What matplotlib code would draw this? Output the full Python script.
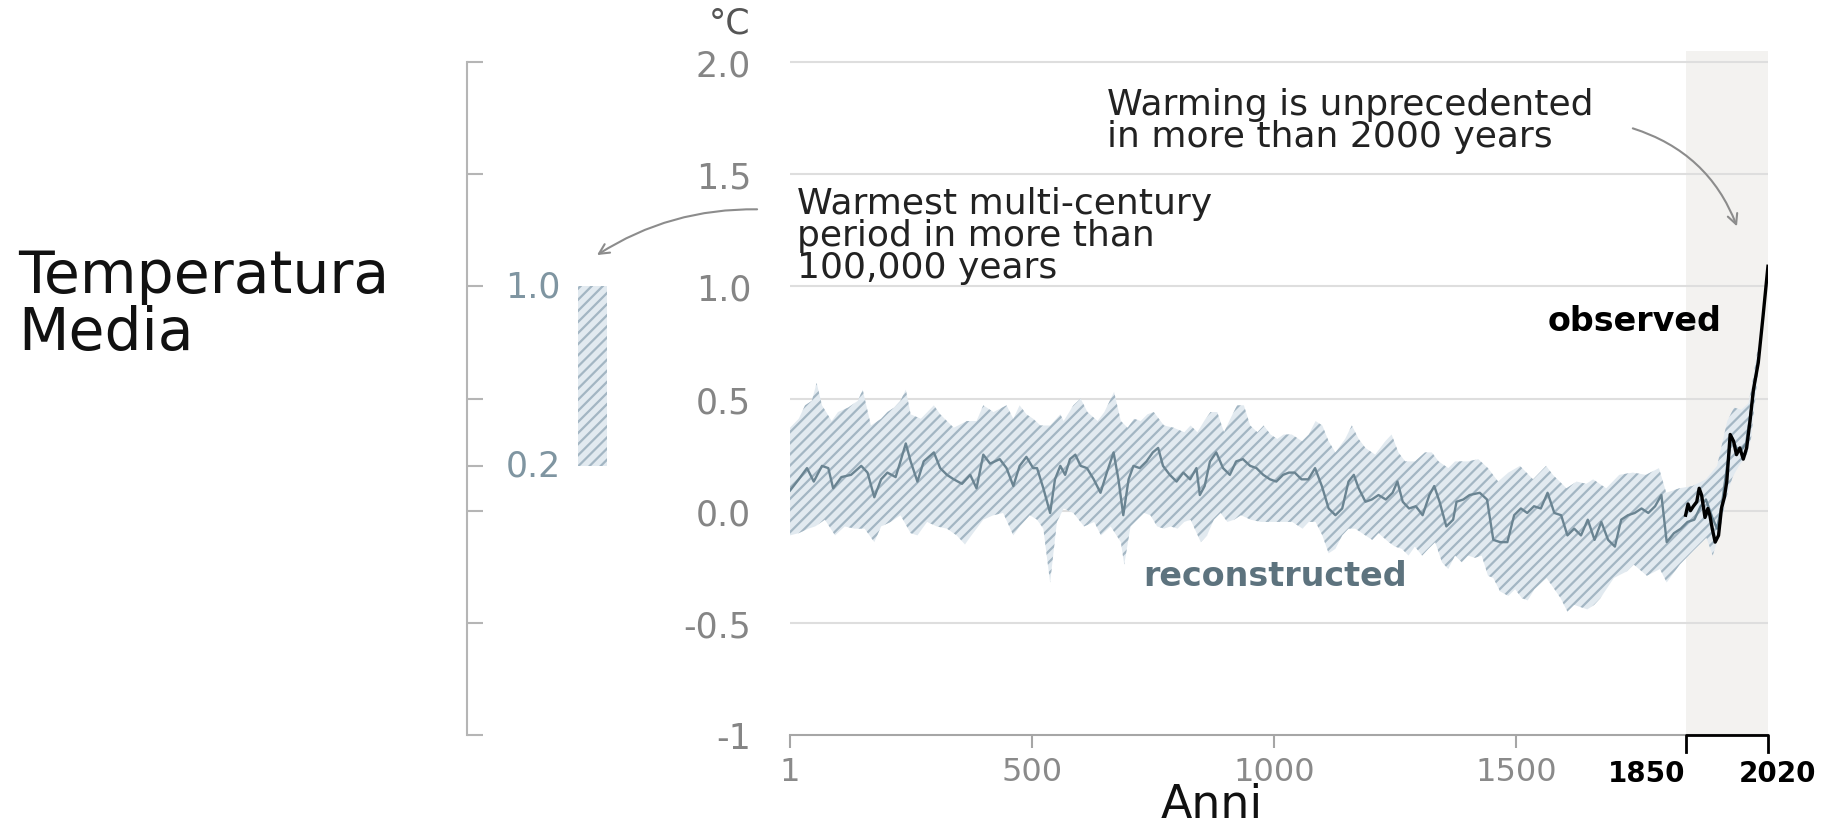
import matplotlib
matplotlib.use("Agg")
import matplotlib.pyplot as plt

plt.rcParams['font.family'] = ['DejaVu Sans']
plt.rcParams['hatch.linewidth'] = 1.6

# ricostruzione (anni 1-2000): linea media
mean_years = [1, 19, 36, 50, 67, 80, 90, 107, 127, 148, 161, 175, 189, 202, 219, 229, 240, 250,
              264, 277, 298, 311, 325, 339, 356, 373, 386, 400, 414, 434, 448, 462, 475, 489,
              503, 511, 524, 538, 548, 559, 569, 579, 590, 601, 614, 628, 642, 655, 669, 679,
              689, 700, 710, 723, 737, 750, 761, 771, 785, 799, 813, 827, 840, 847, 857, 868,
              881, 895, 909, 922, 936, 951, 964, 978, 992, 1005, 1019, 1031, 1043, 1057, 1071,
              1085, 1099, 1113, 1127, 1141, 1154, 1165, 1175, 1189, 1202, 1216, 1231, 1245,
              1255, 1266, 1279, 1293, 1307, 1321, 1331, 1342, 1356, 1370, 1377, 1391, 1404,
              1425, 1440, 1453, 1467, 1482, 1496, 1510, 1523, 1537, 1551, 1565, 1579, 1593,
              1606, 1620, 1634, 1648, 1662, 1676, 1690, 1704, 1717, 1731, 1745, 1759, 1773,
              1787, 1800, 1811, 1826, 1840, 1854, 1868, 1881, 1892, 1905, 1915, 1925, 1937,
              1945, 1955, 1965, 1975, 1985, 1995, 2000]
mean_vals = [0.09, 0.14, 0.19, 0.13, 0.20, 0.19, 0.10, 0.15, 0.16, 0.20, 0.17, 0.06, 0.14, 0.17,
             0.15, 0.22, 0.30, 0.22, 0.13, 0.22, 0.26, 0.19, 0.16, 0.14, 0.12, 0.16, 0.10, 0.25,
             0.21, 0.23, 0.19, 0.11, 0.20, 0.24, 0.19, 0.19, 0.10, -0.01, 0.14, 0.20, 0.16,
             0.23, 0.25, 0.20, 0.19, 0.14, 0.08, 0.17, 0.26, 0.14, -0.02, 0.14, 0.20, 0.19,
             0.22, 0.26, 0.28, 0.20, 0.16, 0.13, 0.17, 0.14, 0.19, 0.07, 0.11, 0.22, 0.26,
             0.19, 0.16, 0.22, 0.23, 0.20, 0.19, 0.16, 0.14, 0.13, 0.16, 0.17, 0.17, 0.14,
             0.14, 0.19, 0.11, 0.01, -0.02, 0.01, 0.13, 0.16, 0.10, 0.04, 0.05, 0.07, 0.05,
             0.08, 0.13, 0.04, 0.01, 0.02, -0.02, 0.07, 0.11, 0.04, -0.07, -0.04, 0.04, 0.05,
             0.07, 0.08, 0.05, -0.13, -0.14, -0.14, -0.02, 0.01, -0.01, 0.02, 0.01, 0.08,
             -0.01, -0.02, -0.11, -0.08, -0.11, -0.04, -0.13, -0.05, -0.13, -0.16, -0.04,
             -0.02, -0.01, 0.01, -0.01, 0.02, 0.07, -0.14, -0.10, -0.08, -0.05, -0.04, 0.02,
             0.05, -0.03, -0.08, 0.03, 0.22, 0.33, 0.28, 0.27, 0.30, 0.45, 0.60, 0.68]

# banda di incertezza: bordo superiore
hi_years = [1, 19, 32, 46, 56, 67, 87, 100, 121, 141, 151, 168, 189, 202, 216, 229, 240, 250,
            271, 298, 311, 339, 366, 386, 400, 421, 448, 462, 475, 489, 503, 518, 538, 559,
            566, 586, 601, 615, 636, 650, 670, 684, 698, 711, 725, 739, 752, 773, 793, 815,
            828, 842, 856, 869, 883, 897, 910, 924, 938, 951, 966, 979, 993, 1007, 1020,
            1037, 1058, 1072, 1086, 1100, 1113, 1127, 1147, 1161, 1175, 1189, 1209, 1230,
            1243, 1257, 1271, 1291, 1312, 1326, 1340, 1360, 1374, 1401, 1422, 1442, 1463,
            1484, 1508, 1535, 1562, 1576, 1604, 1625, 1645, 1659, 1686, 1713, 1741, 1768,
            1795, 1810, 1837, 1864, 1892, 1915, 1936, 1950, 1965, 1980, 1990, 2000]
hi_vals = [0.37, 0.41, 0.47, 0.49, 0.57, 0.47, 0.40, 0.44, 0.46, 0.49, 0.54, 0.38, 0.41, 0.44,
           0.46, 0.49, 0.54, 0.43, 0.41, 0.47, 0.43, 0.37, 0.40, 0.40, 0.47, 0.44, 0.47, 0.41,
           0.47, 0.43, 0.41, 0.38, 0.38, 0.43, 0.40, 0.47, 0.50, 0.44, 0.40, 0.44, 0.53, 0.40,
           0.37, 0.41, 0.40, 0.43, 0.44, 0.38, 0.37, 0.35, 0.38, 0.35, 0.40, 0.44, 0.44, 0.35,
           0.41, 0.47, 0.47, 0.38, 0.35, 0.38, 0.34, 0.32, 0.34, 0.34, 0.31, 0.34, 0.40, 0.38,
           0.31, 0.26, 0.32, 0.38, 0.32, 0.28, 0.25, 0.31, 0.34, 0.26, 0.22, 0.22, 0.26, 0.26,
           0.22, 0.19, 0.22, 0.22, 0.23, 0.19, 0.13, 0.17, 0.20, 0.14, 0.20, 0.16, 0.10, 0.13,
           0.12, 0.14, 0.10, 0.16, 0.17, 0.16, 0.19, 0.08, 0.10, 0.11, 0.14, 0.20, 0.40, 0.46,
           0.45, 0.48, 0.60, 0.74]

# banda di incertezza: bordo inferiore
lo_years = [1, 19, 39, 53, 73, 94, 114, 134, 155, 175, 189, 209, 229, 250, 264, 284, 304, 325,
            345, 362, 379, 400, 421, 441, 462, 475, 496, 511, 524, 538, 552, 566, 586, 608,
            629, 643, 663, 684, 691, 704, 718, 732, 745, 759, 773, 787, 801, 815, 828, 849,
            862, 876, 890, 904, 918, 932, 952, 973, 993, 1014, 1038, 1059, 1072, 1086, 1100,
            1113, 1127, 1141, 1154, 1168, 1189, 1203, 1216, 1237, 1250, 1264, 1278, 1291,
            1306, 1319, 1333, 1347, 1360, 1374, 1388, 1401, 1415, 1429, 1442, 1453, 1467,
            1484, 1498, 1512, 1524, 1538, 1563, 1592, 1606, 1620, 1647, 1661, 1674, 1702,
            1729, 1743, 1770, 1797, 1811, 1838, 1865, 1893, 1906, 1920, 1933, 1947, 1960,
            1975, 1985, 1993, 2000]
lo_vals = [-0.11, -0.10, -0.08, -0.07, -0.04, -0.11, -0.07, -0.08, -0.08, -0.14, -0.07, -0.05,
           -0.02, -0.10, -0.11, -0.05, -0.07, -0.08, -0.11, -0.15, -0.10, -0.04, -0.02, -0.01,
           -0.11, -0.07, -0.02, -0.04, -0.08, -0.32, -0.05, 0.01, -0.01, -0.07, -0.05, -0.11,
           -0.07, -0.14, -0.24, -0.07, -0.04, -0.01, -0.02, -0.07, -0.08, -0.07, -0.08, -0.05,
           -0.04, -0.14, -0.11, -0.04, -0.01, -0.05, -0.04, -0.02, -0.04, -0.05, -0.05, -0.05,
           -0.05, -0.08, -0.05, -0.05, -0.11, -0.19, -0.17, -0.11, -0.08, -0.08, -0.11, -0.13,
           -0.10, -0.14, -0.16, -0.17, -0.20, -0.16, -0.20, -0.17, -0.14, -0.23, -0.26, -0.20,
           -0.23, -0.20, -0.21, -0.20, -0.29, -0.30, -0.36, -0.38, -0.35, -0.39, -0.40, -0.35,
           -0.30, -0.39, -0.45, -0.42, -0.44, -0.42, -0.39, -0.30, -0.27, -0.24, -0.29, -0.26,
           -0.32, -0.24, -0.18, -0.12, -0.20, -0.10, 0.05, 0.15, 0.20, 0.24, 0.32, 0.48, 0.62]

# osservazioni 1850-2020
obs_years = [1850, 1855, 1860, 1866, 1873, 1878, 1883, 1890, 1896, 1900, 1905, 1911, 1918, 1924,
             1930, 1935, 1942, 1949, 1955, 1962, 1969, 1976, 1983, 1990, 2000, 2010, 2020]
obs_vals = [-0.02, 0.03, 0.0, 0.02, 0.04, 0.10, 0.07, -0.03, 0.01, -0.02, -0.08, -0.14, -0.11,
            0.01, 0.06, 0.13, 0.34, 0.31, 0.25, 0.28, 0.23, 0.28, 0.40, 0.54, 0.66, 0.87, 1.09]
obs_span = [1850, 2020]

y_ticks = [-1, -0.5, 0.0, 0.5, 1.0, 1.5, 2.0]
y_labels = ['-1', '-0.5', '0.0', '0.5', '1.0', '1.5', '2.0']
x_ticks = [1, 500, 1000, 1500]
x_labels = ['1', '500', '1000', '1500']
left_ticks = [-1, -0.5, 0.0, 0.2, 0.5, 1.0, 1.5, 2.0]
warm_range = [0.2, 1.0]   # periodo caldo pluri-secolare

band_face = '#e2eaf0'
band_hatch = '#a3b6c3'

fig = plt.figure(figsize=(18.42, 8.29), dpi=100)
ax = fig.add_axes([0.4289, 0.1122, 0.5309, 0.8251])
ax2 = fig.add_axes([0.2535, 0.1122, 0.1086, 0.8251])

# pannello principale
ax.set_xlim(1, 2020)
ax.set_ylim(-1, 2.05)
ax.axvspan(obs_span[0], obs_span[1], color='#f3f2f0', lw=0, zorder=0)
for g in y_ticks[1:]:
    ax.axhline(g, color='#dedede', lw=1.5, zorder=1)
ax.fill(lo_years + hi_years[::-1], lo_vals + hi_vals[::-1],
        facecolor=band_face, edgecolor=band_hatch, hatch='///', lw=0, zorder=2)
ax.plot(mean_years, mean_vals, color='#6a8492', lw=1.7, zorder=3)
ax.plot(obs_years, obs_vals, color='black', lw=2.4, zorder=4)

for s in ['left', 'top', 'right']:
    ax.spines[s].set_visible(False)
ax.spines['bottom'].set_color('#a6a6a6')
ax.spines['bottom'].set_linewidth(1.5)
ax.set_yticks(y_ticks, y_labels)
ax.tick_params(axis='y', length=0, pad=28, labelsize=25, labelcolor='#858585')
ax.set_xticks(x_ticks, x_labels)
ax.tick_params(axis='x', length=9, width=1.5, color='#a6a6a6', pad=6, labelsize=23,
               labelcolor='#8a8a8a')

# parentesi 1850-2020
xt = ax.get_xaxis_transform()
ax.plot([obs_span[0], obs_span[0], obs_span[1], obs_span[1]], [-0.025, 0, 0, -0.025],
        transform=xt, clip_on=False, color='black', lw=2, zorder=5)
ax.text(obs_span[0], -0.055, '1850', transform=xt, ha='right', va='center', fontsize=20,
        fontweight='bold', color='black')
ax.text(obs_span[1] + 20, -0.055, '2020', transform=xt, ha='center', va='center', fontsize=20,
        fontweight='bold', color='black')

ax.text(1002, -0.29, 'reconstructed', ha='center', va='center', fontsize=24,
        fontweight='bold', color='#5d737e', zorder=6)
ax.text(1745, 0.85, 'observed', ha='center', va='center', fontsize=24,
        fontweight='bold', color='black', zorder=6)
ax.text(655, 1.741, 'Warming is unprecedented\nin more than 2000 years', ha='left',
        va='center', fontsize=26, linespacing=0.92, color='#222222')
ax.text(15, 1.228, 'Warmest multi-century\nperiod in more than\n100,000 years', ha='left',
        va='center', fontsize=26, linespacing=0.92, color='#222222')

# pannello sinistro
ax2.set_xlim(0, 200)
ax2.set_ylim(-1, 2.05)
ax2.patch.set_alpha(0)
for s in ['top', 'right', 'bottom']:
    ax2.spines[s].set_visible(False)
ax2.spines['left'].set_color('#b5b5b5')
ax2.spines['left'].set_linewidth(1.5)
ax2.spines['left'].set_bounds(-1, 2)
ax2.set_yticks(left_ticks)
ax2.tick_params(axis='y', direction='in', length=11.5, width=1.5, color='#b5b5b5',
                labelleft=False)
ax2.set_xticks([])
ax2.bar(125.5, warm_range[1] - warm_range[0], bottom=warm_range[0], width=29,
        facecolor=band_face, edgecolor=band_hatch, hatch='///', lw=0)
for v in warm_range:
    ax2.text(66, v, f'{v:.1f}', ha='center', va='center', fontsize=25, color='#7f95a1')

arrow = dict(arrowstyle='->', color='#8c8c8c', lw=1.5, shrinkA=0, shrinkB=0,
             mutation_scale=18)
ax2.annotate('', xy=(130, 1.14), xycoords='data', xytext=(-67, 1.344),
             textcoords=ax.transData, annotation_clip=False,
             arrowprops=dict(arrow, connectionstyle='arc3,rad=0.15'))
ax.annotate('', xy=(1956, 1.268), xytext=(1741, 1.705), annotation_clip=False,
            arrowprops=dict(arrow, connectionstyle='arc3,rad=-0.24'))

fig.text(750 / 1842, 1 - 23 / 829, '°C', ha='right', va='center', fontsize=25,
         color='#555555')
fig.text(1212 / 1842, 1 - 806 / 829, 'Anni', ha='center', va='center', fontsize=33,
         color='#111111')
fig.text(18 / 1842, 1 - 305 / 829, 'Temperatura\nMedia', ha='left', va='center',
         fontsize=42, linespacing=1.0, color='#111111')

fig.savefig('out.png', dpi=100, facecolor='white')
